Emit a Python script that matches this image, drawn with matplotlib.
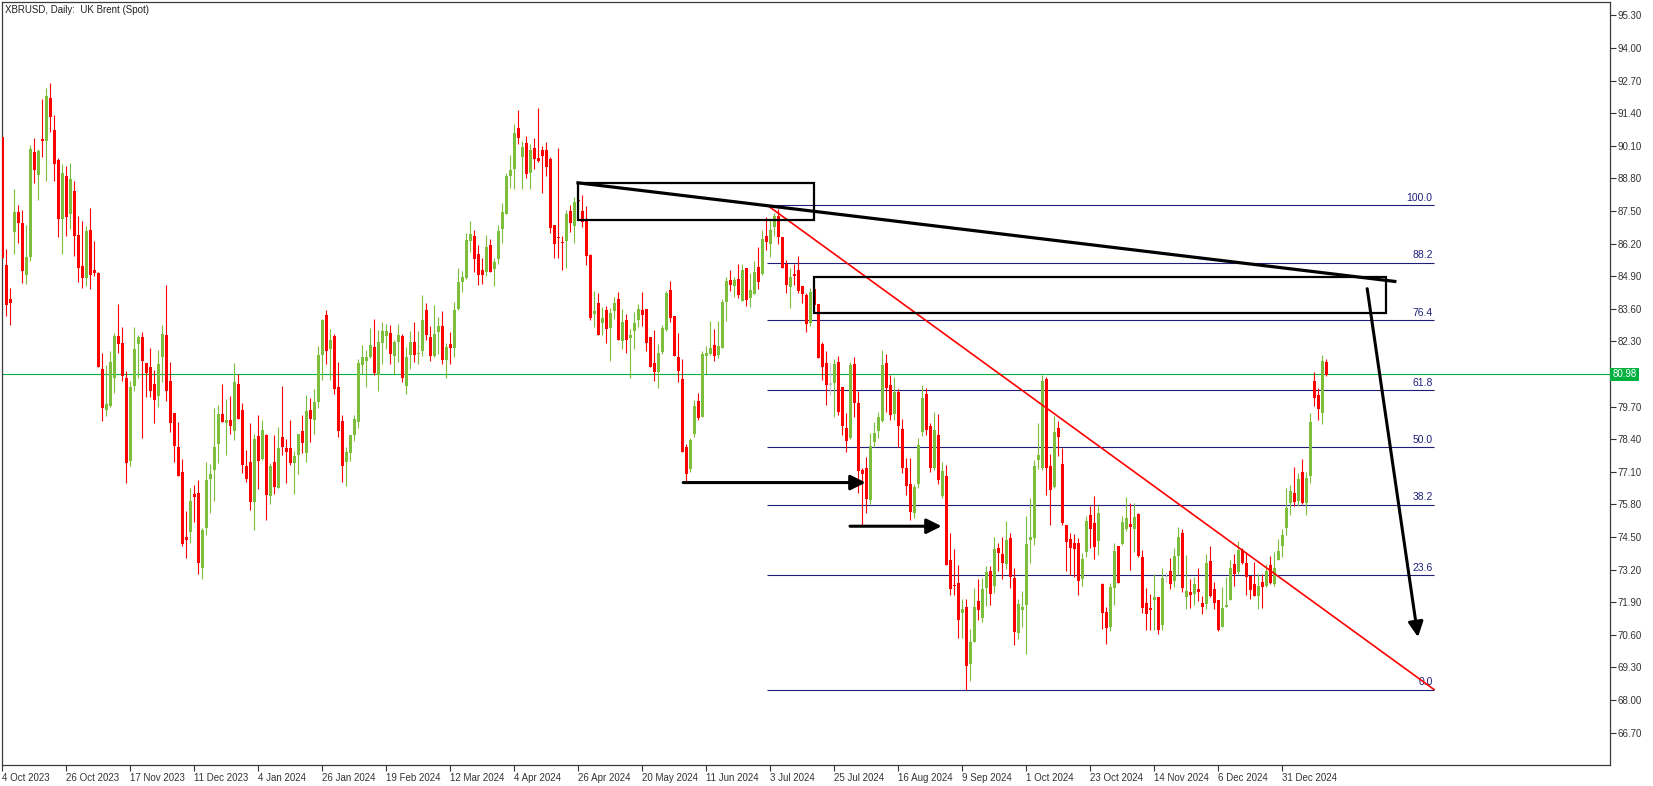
import numpy as np
import matplotlib.pyplot as plt
from matplotlib.patches import Rectangle
from matplotlib import transforms

plt.rcParams['font.family'] = ['Liberation Sans', 'DejaVu Sans']

# daily XBRUSD candles, 4 Oct 2023 .. 16 Jan 2025
opens = [
    90.46, 85.34, 83.99, 86.66, 87.46, 87.02, 84.96, 85.66, 89.85, 88.95,
    90.37, 90.30, 92.00, 90.73, 89.53, 87.19, 88.89, 87.38, 88.30, 86.54,
    85.31, 84.84, 86.74, 85.15, 85.03, 81.20, 79.58, 79.74, 80.85, 82.51,
    82.24, 80.84, 77.54, 80.53, 82.21, 82.47, 81.44, 81.28, 80.60, 80.14,
    81.69, 82.55, 80.72, 79.46, 78.09, 77.11, 74.51, 74.71, 76.21, 76.27,
    73.28, 74.87, 76.81, 77.17, 78.22, 79.40, 79.04, 79.16, 78.74, 80.60,
    79.56, 77.33, 77.49, 75.91, 78.53, 77.61, 78.58, 76.15, 77.49, 76.47,
    78.49, 78.05, 78.05, 77.46, 77.78, 78.73, 77.86, 79.56, 79.18, 79.90,
    81.77, 83.35, 82.01, 82.51, 80.48, 79.12, 77.49, 77.86, 78.58, 79.10,
    81.37, 81.53, 81.68, 82.07, 80.97, 82.25, 82.53, 82.63, 81.73, 82.29,
    82.53, 80.53, 81.76, 82.27, 81.81, 81.93, 83.55, 82.47, 81.73, 82.67,
    82.91, 81.57, 82.19, 82.05, 83.60, 84.68, 84.84, 86.31, 86.50, 85.78,
    85.14, 85.08, 86.14, 85.20, 85.60, 86.79, 87.39, 88.91, 89.18, 90.81,
    89.66, 90.21, 89.03, 90.01, 89.62, 89.93, 89.93, 89.58, 86.95, 86.45,
    86.26, 86.31, 87.50, 86.91, 87.95, 87.50, 87.14, 85.74, 83.40, 83.82,
    83.04, 83.55, 82.85, 83.52, 83.99, 82.33, 83.15, 82.45, 82.73, 83.15,
    83.55, 83.59, 82.49, 81.44, 81.09, 81.89, 82.74, 84.35, 83.32, 81.69,
    80.80, 78.09, 77.22, 78.60, 79.92, 79.30, 81.73, 81.79, 82.15, 81.77,
    82.05, 83.88, 84.75, 84.52, 84.79, 83.92, 85.22, 84.04, 84.20, 85.26,
    84.98, 86.50, 86.18, 86.87, 87.30, 86.46, 85.40, 84.48, 84.98, 85.14,
    84.51, 84.15, 83.04, 84.39, 83.79, 82.19, 81.44, 80.58, 80.65, 81.48,
    80.48, 78.84, 78.46, 81.40, 79.85, 77.18, 77.25, 75.99, 78.30, 78.74,
    79.14, 81.44, 80.56, 79.42, 80.28, 78.82, 77.25, 76.63, 75.44, 76.63,
    78.70, 80.20, 78.92, 77.26, 78.57, 76.15, 76.94, 73.59, 72.59, 72.66,
    71.48, 71.72, 69.45, 70.33, 71.95, 71.28, 72.48, 73.14, 72.56, 74.06,
    73.82, 73.43, 74.46, 72.86, 70.68, 71.59, 71.80, 74.38, 74.47, 77.57,
    77.25, 80.80, 77.33, 76.49, 78.86, 77.41, 74.98, 74.42, 74.26, 74.27,
    72.82, 73.91, 75.38, 75.06, 74.35, 72.64, 71.51, 70.91, 72.48, 74.14,
    74.22, 74.83, 75.02, 74.83, 75.42, 73.70, 71.87, 71.67, 72.00, 72.11,
    71.00, 72.90, 73.14, 72.76, 73.75, 74.66, 72.12, 72.31, 72.24, 72.43,
    71.87, 71.84, 73.54, 72.43, 71.99, 70.92, 71.72, 72.00, 73.42, 73.12,
    74.00, 73.48, 72.96, 72.64, 72.16, 72.72, 72.56, 73.38, 72.62, 73.59,
    74.15, 74.87, 75.87, 76.25, 75.95, 77.09, 75.87, 76.93, 80.72, 80.16,
    79.44, 81.48,
]
highs = [
    90.53, 85.98, 84.41, 88.37, 87.74, 87.54, 86.94, 90.13, 90.41, 89.97,
    91.96, 92.40, 92.60, 91.33, 89.62, 89.37, 89.29, 89.41, 88.69, 87.30,
    87.10, 86.90, 87.62, 86.30, 85.05, 81.84, 81.36, 81.92, 82.63, 83.79,
    82.87, 81.12, 80.72, 82.87, 82.55, 82.67, 81.44, 82.04, 81.16, 81.97,
    82.95, 84.55, 81.48, 79.46, 79.10, 77.62, 75.55, 76.44, 76.57, 76.77,
    74.84, 77.49, 77.41, 79.64, 79.76, 80.60, 80.00, 80.12, 81.44, 81.00,
    79.84, 77.97, 79.04, 78.61, 79.36, 79.16, 78.61, 77.46, 78.57, 78.89,
    80.52, 78.41, 79.16, 77.93, 78.61, 79.36, 80.16, 80.04, 80.40, 82.11,
    83.19, 83.55, 82.79, 82.59, 81.49, 79.36, 78.10, 78.57, 79.36, 81.60,
    82.15, 81.96, 82.83, 83.19, 82.75, 83.06, 82.99, 82.95, 82.35, 82.99,
    82.59, 82.09, 82.71, 83.07, 82.71, 84.15, 83.83, 82.91, 83.75, 83.27,
    83.51, 82.23, 82.69, 83.87, 85.22, 85.10, 86.63, 87.10, 86.74, 86.14,
    85.62, 86.54, 86.39, 85.64, 86.94, 87.82, 89.02, 89.73, 90.97, 91.52,
    90.29, 90.49, 90.17, 90.41, 91.60, 90.09, 90.25, 89.66, 86.95, 90.01,
    86.50, 87.54, 87.74, 88.05, 88.61, 88.13, 87.71, 85.77, 84.31, 84.21,
    83.68, 83.71, 83.63, 84.07, 84.27, 83.59, 83.39, 82.79, 83.47, 83.79,
    84.27, 83.59, 82.49, 82.75, 82.19, 82.95, 84.31, 84.71, 83.32, 82.65,
    81.59, 78.21, 78.45, 79.96, 80.24, 81.91, 82.13, 83.11, 82.79, 83.11,
    83.99, 84.87, 85.14, 84.88, 85.38, 85.38, 85.24, 85.02, 85.50, 86.06,
    86.74, 87.26, 87.14, 87.40, 87.58, 86.46, 85.54, 85.24, 85.38, 85.70,
    84.51, 84.24, 84.43, 84.48, 83.79, 82.29, 81.92, 81.42, 81.60, 81.72,
    80.48, 79.43, 81.48, 81.68, 80.32, 77.25, 77.69, 78.65, 79.08, 79.47,
    81.96, 81.81, 80.96, 80.88, 80.39, 79.22, 77.65, 77.65, 76.60, 78.45,
    80.57, 80.45, 79.04, 79.48, 79.42, 77.49, 77.38, 74.67, 74.02, 73.38,
    72.04, 72.03, 70.83, 72.48, 72.82, 72.88, 73.34, 73.34, 74.50, 74.26,
    74.50, 75.14, 74.66, 73.26, 72.03, 72.35, 75.34, 76.07, 77.58, 79.04,
    80.96, 80.88, 77.81, 79.32, 79.12, 78.06, 74.98, 74.66, 74.62, 74.46,
    73.85, 75.34, 75.75, 76.15, 75.79, 72.68, 71.71, 72.67, 74.26, 74.14,
    75.34, 76.09, 75.85, 75.85, 75.47, 73.98, 72.48, 72.24, 73.04, 72.11,
    73.26, 73.10, 73.66, 74.06, 74.90, 74.82, 73.78, 72.84, 72.90, 73.26,
    72.15, 73.82, 74.14, 72.72, 71.99, 72.50, 72.90, 73.58, 73.82, 74.34,
    74.06, 73.91, 72.96, 73.52, 73.04, 73.04, 73.44, 73.74, 73.91, 74.42,
    74.82, 76.45, 76.57, 77.30, 77.05, 77.61, 77.09, 79.44, 81.08, 80.44,
    81.76, 81.60,
]
lows = [
    85.54, 83.31, 82.95, 85.80, 86.22, 84.64, 84.60, 85.50, 88.63, 87.95,
    89.66, 88.71, 90.65, 88.71, 86.47, 85.80, 86.51, 86.78, 85.72, 84.68,
    84.44, 84.52, 84.40, 84.92, 81.29, 79.14, 79.34, 79.70, 80.25, 81.85,
    80.73, 76.67, 77.34, 80.33, 80.85, 78.46, 80.10, 80.10, 79.06, 79.70,
    80.69, 79.94, 78.70, 77.50, 76.95, 74.15, 73.68, 74.27, 75.11, 73.02,
    72.81, 74.58, 75.47, 75.95, 77.46, 79.08, 77.78, 78.61, 78.38, 79.22,
    77.06, 76.71, 75.59, 74.79, 76.43, 77.58, 75.19, 75.83, 76.23, 76.45,
    77.77, 76.67, 77.38, 76.23, 77.03, 77.86, 77.50, 78.30, 78.62, 79.64,
    80.77, 81.41, 80.77, 80.21, 78.50, 76.71, 76.55, 77.54, 78.33, 78.86,
    81.01, 80.49, 81.64, 80.97, 80.33, 81.38, 82.01, 81.41, 80.98, 81.46,
    80.67, 80.19, 81.20, 81.49, 81.41, 81.73, 82.37, 81.53, 81.66, 81.81,
    81.41, 80.85, 81.41, 81.69, 83.56, 84.28, 84.80, 85.88, 85.08, 84.56,
    84.60, 84.92, 85.08, 84.52, 85.40, 86.23, 87.39, 88.40, 88.39, 90.18,
    88.39, 88.83, 88.39, 89.18, 89.45, 88.23, 88.91, 86.63, 85.64, 85.64,
    85.16, 85.24, 86.67, 86.23, 87.80, 86.87, 85.34, 83.15, 82.88, 82.57,
    82.57, 82.25, 81.53, 83.19, 82.37, 82.01, 81.85, 80.85, 82.01, 82.88,
    82.92, 81.93, 81.29, 80.73, 80.45, 81.81, 82.73, 83.08, 81.73, 80.69,
    77.90, 76.70, 77.10, 78.50, 79.18, 79.30, 81.01, 81.76, 81.52, 81.65,
    82.03, 83.12, 84.31, 84.08, 84.03, 83.92, 83.72, 83.67, 84.20, 84.40,
    84.94, 85.94, 85.68, 86.51, 86.18, 85.24, 84.21, 83.64, 84.55, 84.21,
    83.84, 82.69, 82.91, 83.68, 81.65, 80.76, 79.78, 80.16, 79.30, 79.38,
    78.57, 77.90, 78.39, 79.30, 76.27, 74.98, 75.47, 75.83, 78.10, 78.46,
    79.10, 79.48, 79.18, 79.16, 78.10, 77.05, 76.17, 75.19, 75.27, 76.44,
    78.54, 78.57, 77.09, 77.17, 76.60, 76.07, 73.40, 72.20, 72.19, 70.48,
    70.48, 68.42, 68.75, 70.33, 71.20, 71.10, 71.76, 71.80, 72.28, 73.16,
    72.82, 73.24, 72.48, 70.21, 70.42, 70.92, 69.85, 73.48, 74.18, 77.21,
    77.17, 76.19, 74.99, 76.47, 77.73, 74.99, 73.16, 72.98, 72.92, 72.20,
    72.56, 73.71, 74.07, 73.63, 73.79, 70.83, 70.25, 70.76, 71.79, 72.68,
    74.19, 74.75, 73.18, 73.91, 73.71, 71.48, 70.79, 70.79, 70.79, 70.65,
    70.79, 72.70, 72.44, 72.52, 72.98, 72.31, 71.61, 71.68, 71.77, 71.96,
    71.44, 71.64, 72.12, 71.64, 70.75, 70.90, 71.72, 72.00, 72.56, 73.04,
    73.44, 72.20, 72.01, 72.16, 71.64, 71.68, 72.52, 72.64, 72.56, 73.59,
    73.71, 74.59, 75.39, 75.75, 75.75, 75.83, 75.39, 76.67, 79.74, 79.18,
    79.02, 80.92,
]
closes = [
    85.61, 83.75, 83.84, 87.46, 87.02, 85.11, 85.66, 89.97, 89.15, 89.89,
    90.29, 92.08, 91.25, 89.39, 87.19, 89.01, 87.27, 88.77, 86.51, 85.24,
    84.84, 86.70, 84.96, 85.03, 81.29, 79.66, 79.80, 81.48, 82.51, 82.21,
    80.93, 77.46, 80.48, 82.00, 82.47, 81.53, 81.05, 80.33, 79.98, 81.40,
    82.59, 80.33, 79.06, 78.14, 76.95, 74.23, 74.39, 75.93, 76.09, 73.48,
    74.79, 76.77, 77.01, 78.09, 79.40, 79.08, 79.16, 78.92, 80.68, 79.22,
    77.38, 76.81, 75.91, 78.41, 77.54, 78.77, 76.19, 77.33, 76.51, 78.05,
    78.10, 77.90, 77.46, 77.73, 78.61, 78.26, 79.52, 79.22, 79.88, 81.76,
    83.15, 81.93, 82.35, 80.41, 78.74, 77.34, 77.89, 78.57, 79.20, 81.44,
    81.68, 81.68, 82.15, 81.04, 82.27, 82.71, 82.71, 81.81, 82.27, 82.55,
    80.85, 81.67, 82.27, 81.76, 81.84, 83.15, 82.57, 81.73, 82.59, 82.91,
    81.57, 82.09, 82.05, 83.55, 84.66, 84.87, 86.34, 86.58, 85.60, 84.96,
    84.96, 86.06, 85.08, 85.48, 86.71, 87.46, 88.89, 89.13, 90.61, 90.42,
    90.05, 88.99, 89.93, 89.58, 89.50, 89.70, 89.26, 86.83, 86.19, 86.43,
    86.23, 87.38, 87.02, 87.86, 87.90, 87.07, 85.70, 83.24, 83.51, 82.57,
    83.23, 82.81, 83.43, 83.82, 82.37, 83.07, 82.37, 82.55, 83.03, 83.59,
    83.35, 82.25, 81.29, 81.09, 81.85, 82.83, 84.23, 83.24, 81.73, 81.13,
    77.90, 77.02, 78.38, 79.72, 79.26, 81.79, 81.85, 82.03, 81.71, 82.11,
    83.87, 84.71, 84.56, 84.75, 84.15, 85.14, 83.96, 84.35, 85.06, 84.67,
    86.38, 86.27, 86.74, 87.30, 86.47, 85.24, 84.56, 84.87, 84.92, 84.32,
    84.20, 83.00, 84.27, 83.75, 81.65, 81.29, 80.57, 80.58, 81.40, 79.50,
    78.94, 78.34, 81.36, 79.85, 77.13, 77.02, 76.03, 78.13, 78.65, 79.28,
    81.36, 80.45, 79.36, 80.29, 78.94, 77.24, 76.55, 75.51, 76.51, 78.17,
    80.04, 78.78, 77.24, 78.78, 76.78, 77.13, 73.40, 72.44, 72.55, 71.20,
    71.64, 69.37, 70.31, 71.72, 71.60, 72.44, 73.10, 72.24, 74.02, 73.86,
    73.46, 74.38, 72.92, 70.72, 71.84, 71.72, 74.22, 74.50, 77.33, 77.77,
    80.72, 77.24, 76.39, 78.69, 78.50, 75.06, 74.31, 74.07, 74.02, 72.76,
    73.62, 75.14, 74.80, 74.11, 75.46, 71.48, 70.87, 72.51, 73.95, 72.68,
    75.10, 75.26, 74.91, 75.30, 73.75, 71.68, 71.44, 71.60, 72.12, 70.79,
    72.88, 72.90, 72.64, 73.74, 74.50, 72.48, 72.35, 72.20, 72.62, 72.32,
    71.72, 73.48, 72.16, 71.88, 70.80, 71.68, 71.80, 73.27, 73.04, 74.00,
    73.48, 72.92, 72.40, 72.16, 72.56, 72.52, 73.16, 72.68, 73.28, 73.95,
    74.58, 75.65, 76.33, 75.91, 76.81, 75.87, 76.85, 79.08, 80.05, 79.62,
    81.52, 80.96,
]

date_labels = ["4 Oct 2023", "26 Oct 2023", "17 Nov 2023", "11 Dec 2023",
               "4 Jan 2024", "26 Jan 2024", "19 Feb 2024", "12 Mar 2024",
               "4 Apr 2024", "26 Apr 2024", "20 May 2024", "11 Jun 2024",
               "3 Jul 2024", "25 Jul 2024", "16 Aug 2024", "9 Sep 2024",
               "1 Oct 2024", "23 Oct 2024", "14 Nov 2024", "6 Dec 2024",
               "31 Dec 2024"]
bars_per_label = 16
price_ticks = [66.70, 68.00, 69.30, 70.60, 71.90, 73.20, 74.50, 75.80, 77.10,
               78.40, 79.70, 82.30, 83.60, 84.90, 86.20, 87.50, 88.80, 90.10,
               91.40, 92.70, 94.00, 95.30]
last_price = 80.98

# drawn objects (bar index, price)
fib_levels = [100.0, 88.2, 76.4, 61.8, 50.0, 38.2, 23.6, 0.0]
fib_high, fib_low = 87.72, 68.42
fib_from, fib_to = 191.2, 357.9
red_line = [(191.1, 87.74), (357.9, 68.42)]
black_line = [(143.9, 88.62), (348.1, 84.69)]
boxes = [((143.9, 87.14), (202.9, 88.62)), ((202.9, 83.44), (345.9, 84.87))]
arrows = [((170.2, 76.67), (215.8, 76.67)),
          ((211.9, 74.93), (234.8, 74.93)),
          ((341.2, 84.40), (353.9, 70.51))]

o = np.array(opens); h = np.array(highs); l = np.array(lows); c = np.array(closes)
assert len(o) == len(h) == len(l) == len(c)
x = np.arange(len(o))

W, H = 1653, 786
fig = plt.figure(figsize=(W / 100, H / 100), dpi=100)
ax = fig.add_axes([2 / W, 21 / H, 1608 / W, 763 / H])

green, red = '#7dbf3c', '#ff0000'
cols = np.where(c > o, green, red).astype(object)
cols[np.abs(c - o) < 0.005] = '#c8c8c8'
ax.vlines(x, l, h, colors=cols, lw=0.8, zorder=2)
body = np.maximum(np.abs(c - o), 0.04)
ax.bar(x, body, bottom=np.minimum(o, c), width=0.72, color=cols, linewidth=0, zorder=3)

# fibonacci retracement
navy = '#1f1f7a'
for lvl in fib_levels:
    p = fib_low + lvl / 100 * (fib_high - fib_low)
    ax.hlines(p, fib_from, fib_to, color=navy, lw=0.8, zorder=1)
    ax.annotate(f"{lvl:.1f}", (fib_to, p), xytext=(-1, 1.5), textcoords='offset points',
                ha='right', va='bottom', fontsize=7.5, color=navy)

ax.plot(*zip(*red_line), color=red, lw=1.2, zorder=4)
ax.plot(*zip(*black_line), color='black', lw=2.3, zorder=5)
for (x0, y0), (x1, y1) in boxes:
    ax.add_patch(Rectangle((x0, y0), x1 - x0, y1 - y0, fill=False, ec='black', lw=1.6, zorder=5))
for start, tip in arrows:
    ax.annotate('', xy=tip, xytext=start,
                arrowprops=dict(arrowstyle='-|>,head_length=0.9,head_width=0.45',
                                mutation_scale=10, lw=2.2, color='black',
                                shrinkA=0, shrinkB=0), zorder=6)

# current price
ax.axhline(last_price, color='#00b140', lw=0.8, zorder=1)
trans = transforms.blended_transform_factory(ax.transAxes, ax.transData)
ax.text(1.0015, last_price, f"{last_price:.2f}", transform=trans, ha='left', va='center',
        fontsize=7, color='white', clip_on=False,
        bbox=dict(boxstyle='square,pad=0.2', fc='#00b140', ec='none'))

ax.set_xlim(-0.1, 401.9)
ax.set_ylim(65.41, 95.83)

ax.set_xticks(np.arange(len(date_labels)) * bars_per_label)
ax.set_xticklabels(date_labels)
shift = transforms.ScaledTranslation(2 / 100, 0, fig.dpi_scale_trans)
for lab in ax.get_xticklabels():
    lab.set_horizontalalignment('left')
    lab.set_transform(lab.get_transform() + shift)
ax.set_yticks(price_ticks)
ax.set_yticklabels([f"{p:.2f}" for p in price_ticks])
ax.yaxis.tick_right()
ax.tick_params(axis='both', direction='out', length=4, width=0.8, colors='#333333',
               labelsize=7, pad=1.5)
for sp in ax.spines.values():
    sp.set_color('#3c3c3c')
    sp.set_linewidth(0.9)

fig.text(5 / W, 1 - 10 / H, "XBRUSD, Daily:  UK Brent (Spot)", fontsize=7,
         va='center', ha='left', color='#202020')

fig.savefig("out.png", dpi=100)
